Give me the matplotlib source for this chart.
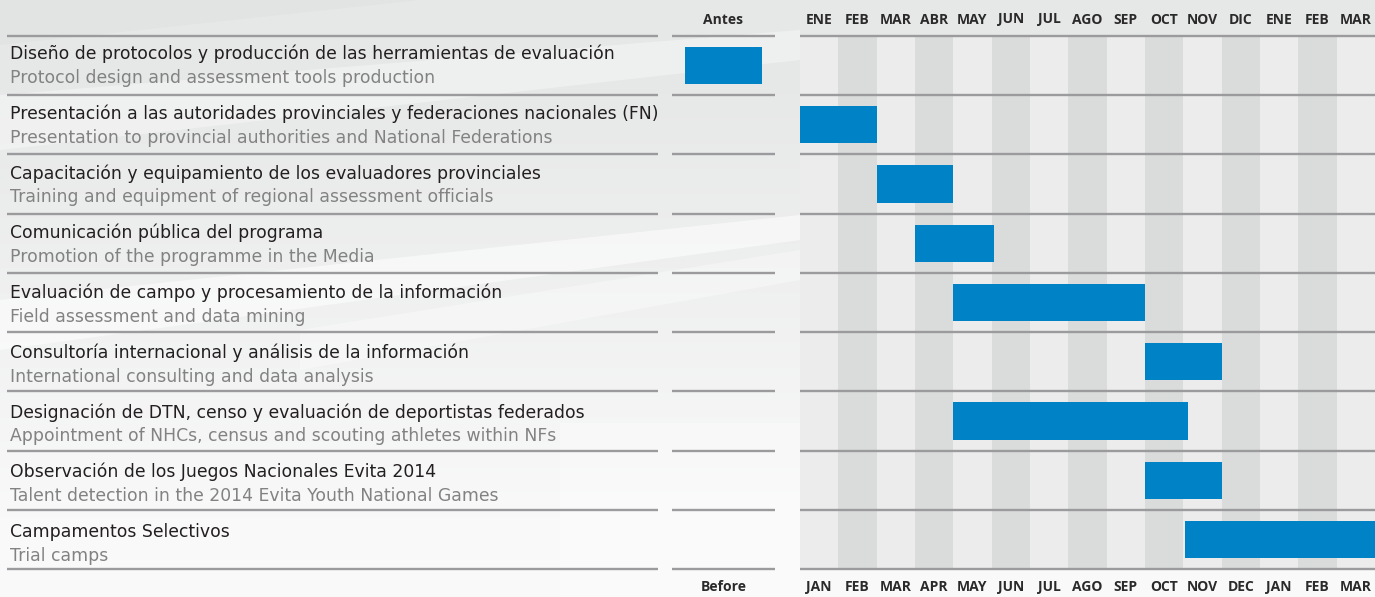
import matplotlib
matplotlib.use('Agg')
import matplotlib.pyplot as plt
import numpy as np
from matplotlib.transforms import Affine2D, blended_transform_factory
from matplotlib.patches import Polygon

plt.rcParams['font.family'] = ['DejaVu Sans']

# ---- data ----
tasks_es = [
    'Diseño de protocolos y producción de las herramientas de evaluación',
    'Presentación a las autoridades provinciales y federaciones nacionales (FN)',
    'Capacitación y equipamiento de los evaluadores provinciales',
    'Comunicación pública del programa',
    'Evaluación de campo y procesamiento de la información',
    'Consultoría internacional y análisis de la información',
    'Designación de DTN, censo y evaluación de deportistas federados',
    'Observación de los Juegos Nacionales Evita 2014',
    'Campamentos Selectivos',
]
tasks_en = [
    'Protocol design and assessment tools production',
    'Presentation to provincial authorities and National Federations',
    'Training and equipment of regional assessment officials',
    'Promotion of the programme in the Media',
    'Field assessment and data mining',
    'International consulting and data analysis',
    'Appointment of NHCs, census and scouting athletes within NFs',
    'Talent detection in the 2014 Evita Youth National Games',
    'Trial camps',
]
# month index 0 = ENE (first year); -3..-1 is the "Antes" column
start = [-3, 0, 2, 3, 4, 9, 4, 9, 10.05]
end = [-1, 2, 4, 5.05, 9, 11, 10.12, 11, 15]
months_es = ['ENE', 'FEB', 'MAR', 'ABR', 'MAY', 'JUN', 'JUL', 'AGO', 'SEP',
             'OCT', 'NOV', 'DIC', 'ENE', 'FEB', 'MAR']
months_en = ['JAN', 'FEB', 'MAR', 'APR', 'MAY', 'JUN', 'JUL', 'AGO', 'SEP',
             'OCT', 'NOV', 'DEC', 'JAN', 'FEB', 'MAR']
before_es = 'Antes'
before_en = 'Before'

# ---- layout (pixels) ----
W, H = 1375, 597
X0 = 800.0                      # pixel where month 0 starts
U = (W - X0) / len(months_es)   # pixels per month
TOP, P = 35.7, 59.29            # first separator, row pitch
n = len(tasks_es)

fig = plt.figure(figsize=(W / 100, H / 100), dpi=100)
px = Affine2D().scale(1 / W, -1 / H).translate(0, 1) + fig.transFigure

# background: soft vertical gradient + light diagonal sweeps
bg = fig.add_axes([0, 0, 1, 1], zorder=-1)
bg.set_xlim(0, W)
bg.set_ylim(H, 0)
bg.axis('off')
t = np.linspace(0, 1, 200)[:, None]
top_c = np.array([0.902, 0.906, 0.906])
bot_c = np.array([0.978, 0.978, 0.978])
grad = top_c + (bot_c - top_c) * np.clip(t * 1.3 - 0.15, 0, 1)[..., None]
grad = np.repeat(grad, 2, axis=1)
bg.imshow(grad, extent=(0, W, H, 0), aspect='auto', zorder=0)
for pts, c, a in [
    ([(0, 95), (800, 30), (800, 60), (0, 150)], 'white', 0.35),
    ([(0, 300), (800, 215), (800, 240), (0, 350)], 'white', 0.55),
    ([(300, 330), (800, 250), (800, 280), (300, 370)], 'white', 0.35),
    ([(560, 423), (800, 423), (800, 597), (560, 597)], 'white', 0.3),
    ([(0, 0), (420, 0), (0, 45)], '#dcdddd', 0.35),
]:
    bg.add_patch(Polygon(pts, closed=True, color=c, alpha=a, lw=0, zorder=1))

ax = fig.add_axes([0, 0, 1, 1], zorder=1)
ax.set_facecolor('none')
ax.set_xlim(-X0 / U, len(months_es))
ax.set_ylim(n + (H - (TOP + n * P)) / P, -TOP / P)
ax.axis('off')

# month bands
band_colors = ['#ececec' if i % 2 == 0 else '#dadcdc' for i in range(len(months_es))]
ax.bar(range(len(months_es)), n, bottom=0, width=1, align='edge',
       color=band_colors, zorder=1)

# row separators
def mx(p):
    return (p - X0) / U

for xa, xb in [(7, 658), (672, 775), (800, W)]:
    ax.hlines(range(n + 1), mx(xa), mx(xb), color='#9b9b9d', lw=1.7, zorder=2)

# bars
rows = [i + 0.5 for i in range(n)]
widths = [e - s for s, e in zip(start, end)]
ax.barh(rows, widths, left=start, height=0.63, color='#0082c6', zorder=3)

# task labels
for i in range(n):
    y = 54 + i * 59.74
    fig.text(10, y, tasks_es[i], transform=px, fontsize=12.4, color='#231f20',
             va='center', ha='left')
    fig.text(10, y + 24, tasks_en[i], transform=px, fontsize=12.4,
             color='#828282', va='center', ha='left')

# headers
tx = blended_transform_factory(ax.transData, px)
hdr = dict(ha='center', va='center', fontsize=10, fontweight='bold',
           color='#2a2a2a', family='Open Sans')
ax.text(-2.0, 20, before_es, transform=tx, **hdr)
ax.text(-2.0, 587, before_en, transform=tx, **hdr)
for i, (m1, m2) in enumerate(zip(months_es, months_en)):
    ax.text(i + 0.5, 19.5, m1, transform=tx, **hdr)
    ax.text(i + 0.5, 587, m2, transform=tx, **hdr)

fig.savefig('out.png', dpi=100)
